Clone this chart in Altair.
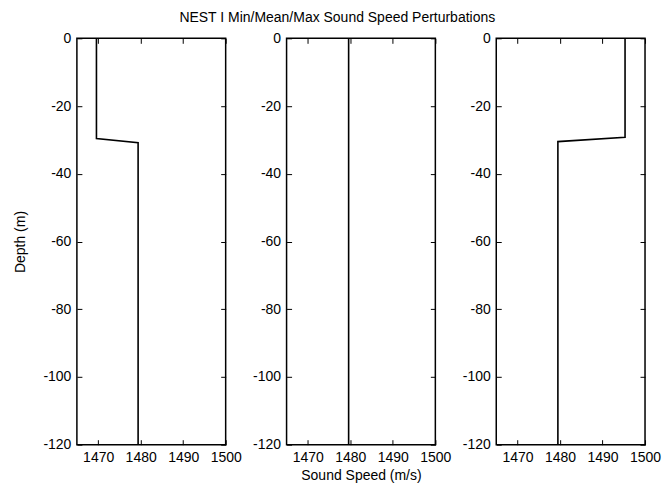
import altair as alt
import pandas as pd

# Panel data (sound speed m/s, depth m)
min_speed = [1469.6, 1469.6, 1479.4, 1479.4]
min_depth = [0, -29.6, -30.8, -120]
mean_speed = [1479.6, 1479.6]
mean_depth = [0, -120]
max_speed = [1495.3, 1495.3, 1479.5, 1479.5]
max_depth = [0, -29.2, -30.5, -120]

x_ticks = [1470, 1480, 1490, 1500]
y_ticks = [0, -20, -40, -60, -80, -100, -120]

FONT = "Liberation Sans"
W, H = 149, 407

YLAB = "datum.value == 0 ? '0' : '-' + format(abs(datum.value), 'd')"
XLAB = "format(datum.value, 'd')"


def panel(speeds, depths, ytitle=None, xtitle=None):
    df = pd.DataFrame({"speed": speeds, "depth": depths, "order": list(range(len(speeds)))})
    xs = alt.Scale(domain=[1465, 1500], nice=False, zero=False)
    ys = alt.Scale(domain=[-120, 0], nice=False, zero=False)
    base = alt.Chart(df)
    main = base.mark_line(color="black", strokeWidth=1.6).encode(
        x=alt.X("speed:Q", scale=xs,
                axis=alt.Axis(orient="bottom", values=x_ticks, offset=-5, tickSize=5,
                              domain=False, grid=False, title=xtitle if xtitle else "",
                              labelExpr=XLAB, labelOverlap=False, labelFlush=False,
                              labelBound=False, labelPadding=6, titlePadding=4)),
        y=alt.Y("depth:Q", scale=ys,
                axis=alt.Axis(orient="left", values=y_ticks, offset=-5, tickSize=5,
                              domain=False, grid=False, title=ytitle if ytitle else "",
                              labelExpr=YLAB, labelOverlap=False, labelFlush=False,
                              labelPadding=6, titlePadding=15)),
        order="order:Q",
    )
    opp = base.mark_line(opacity=0).encode(
        x=alt.X("speed:Q", scale=xs,
                axis=alt.Axis(orient="top", values=x_ticks, offset=-5, tickSize=5,
                              domain=False, grid=False, labels=False, title=None)),
        y=alt.Y("depth:Q", scale=ys,
                axis=alt.Axis(orient="right", values=y_ticks, offset=-5, tickSize=5,
                              domain=False, grid=False, labels=False, title=None)),
        order="order:Q",
    )
    return alt.layer(main, opp).resolve_axis(x="independent", y="independent").properties(
        width=W, height=H)


p1 = panel(min_speed, min_depth, ytitle="Depth (m)")
p2 = panel(mean_speed, mean_depth, xtitle="Sound Speed (m/s)")
p3 = panel(max_speed, max_depth)

chart = alt.hconcat(p1, p2, p3, spacing=9).properties(
    title=alt.TitleParams("NEST I Min/Mean/Max Sound Speed Perturbations",
                          anchor="middle", fontSize=14, font=FONT,
                          fontWeight="normal", color="black", offset=6),
    padding={"left": 5, "top": 2, "right": 0, "bottom": 0},
    background="white",
).configure_view(stroke="black", strokeWidth=1.5).configure_axis(
    labelFont=FONT, titleFont=FONT, labelFontSize=14, titleFontSize=14,
    labelColor="black", titleColor="black", tickColor="black",
    titleFontWeight="normal", tickWidth=1,
)

chart.save("out.html", embed_options={"renderer": "svg", "actions": False})
